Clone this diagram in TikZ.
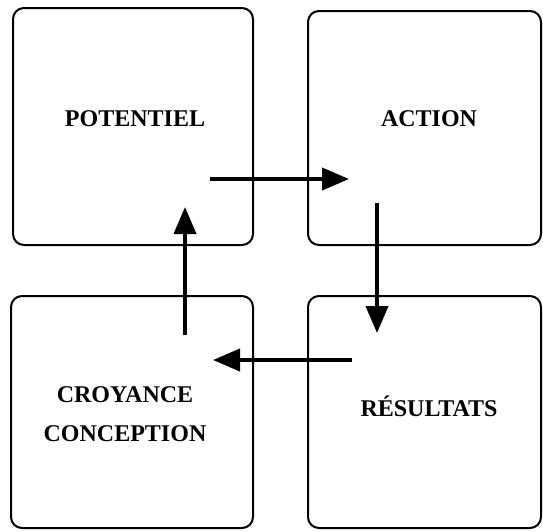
\documentclass[tikz,border=0pt]{standalone}
\usepackage{fontspec}
\setmainfont{Liberation Serif}
\usetikzlibrary{arrows.meta}
\begin{document}
\begin{tikzpicture}[x=1pt,y=-1pt,
  box/.style={draw=black,line width=2pt,rounded corners=11pt,inner sep=0pt},
  lbl/.style={font=\fontsize{24}{39.5}\selectfont\bfseries,align=center,anchor=base,inner sep=0pt},
  flow/.style={line width=4pt,-{Triangle[length=27pt,width=22pt]}}]
\useasboundingbox (0,0) rectangle (543,531);
\node[box,minimum width=240pt,minimum height=237pt] (tl) at (133,126.5) {};
\node[box,minimum width=233pt,minimum height=234pt] (tr) at (424.5,128) {};
\node[box,minimum width=242pt,minimum height=232pt] (bl) at (132,412) {};
\node[box,minimum width=233pt,minimum height=232pt] (br) at (424.5,412) {};
\node[lbl] (tltext) at (135,126) {POTENTIEL};
\node[lbl] (trtext) at (429,126) {ACTION};
\node[lbl] (bltext) at (125,441.5) {CROYANCE\\CONCEPTION};
\node[lbl] (brtext) at (429,416.5) {RÉSULTATS};
\coordinate (r1) at (210,179);
\coordinate (r2) at (349,179);
\coordinate (d1) at (377,203);
\coordinate (d2) at (377,333);
\coordinate (l1) at (352,360);
\coordinate (l2) at (213,360);
\coordinate (u1) at (185,335);
\coordinate (u2) at (185,207);
\draw[flow] (r1) -- (r2);
\draw[flow] (d1) -- (d2);
\draw[flow] (l1) -- (l2);
\draw[flow] (u1) -- (u2);
\end{tikzpicture}
\end{document}
